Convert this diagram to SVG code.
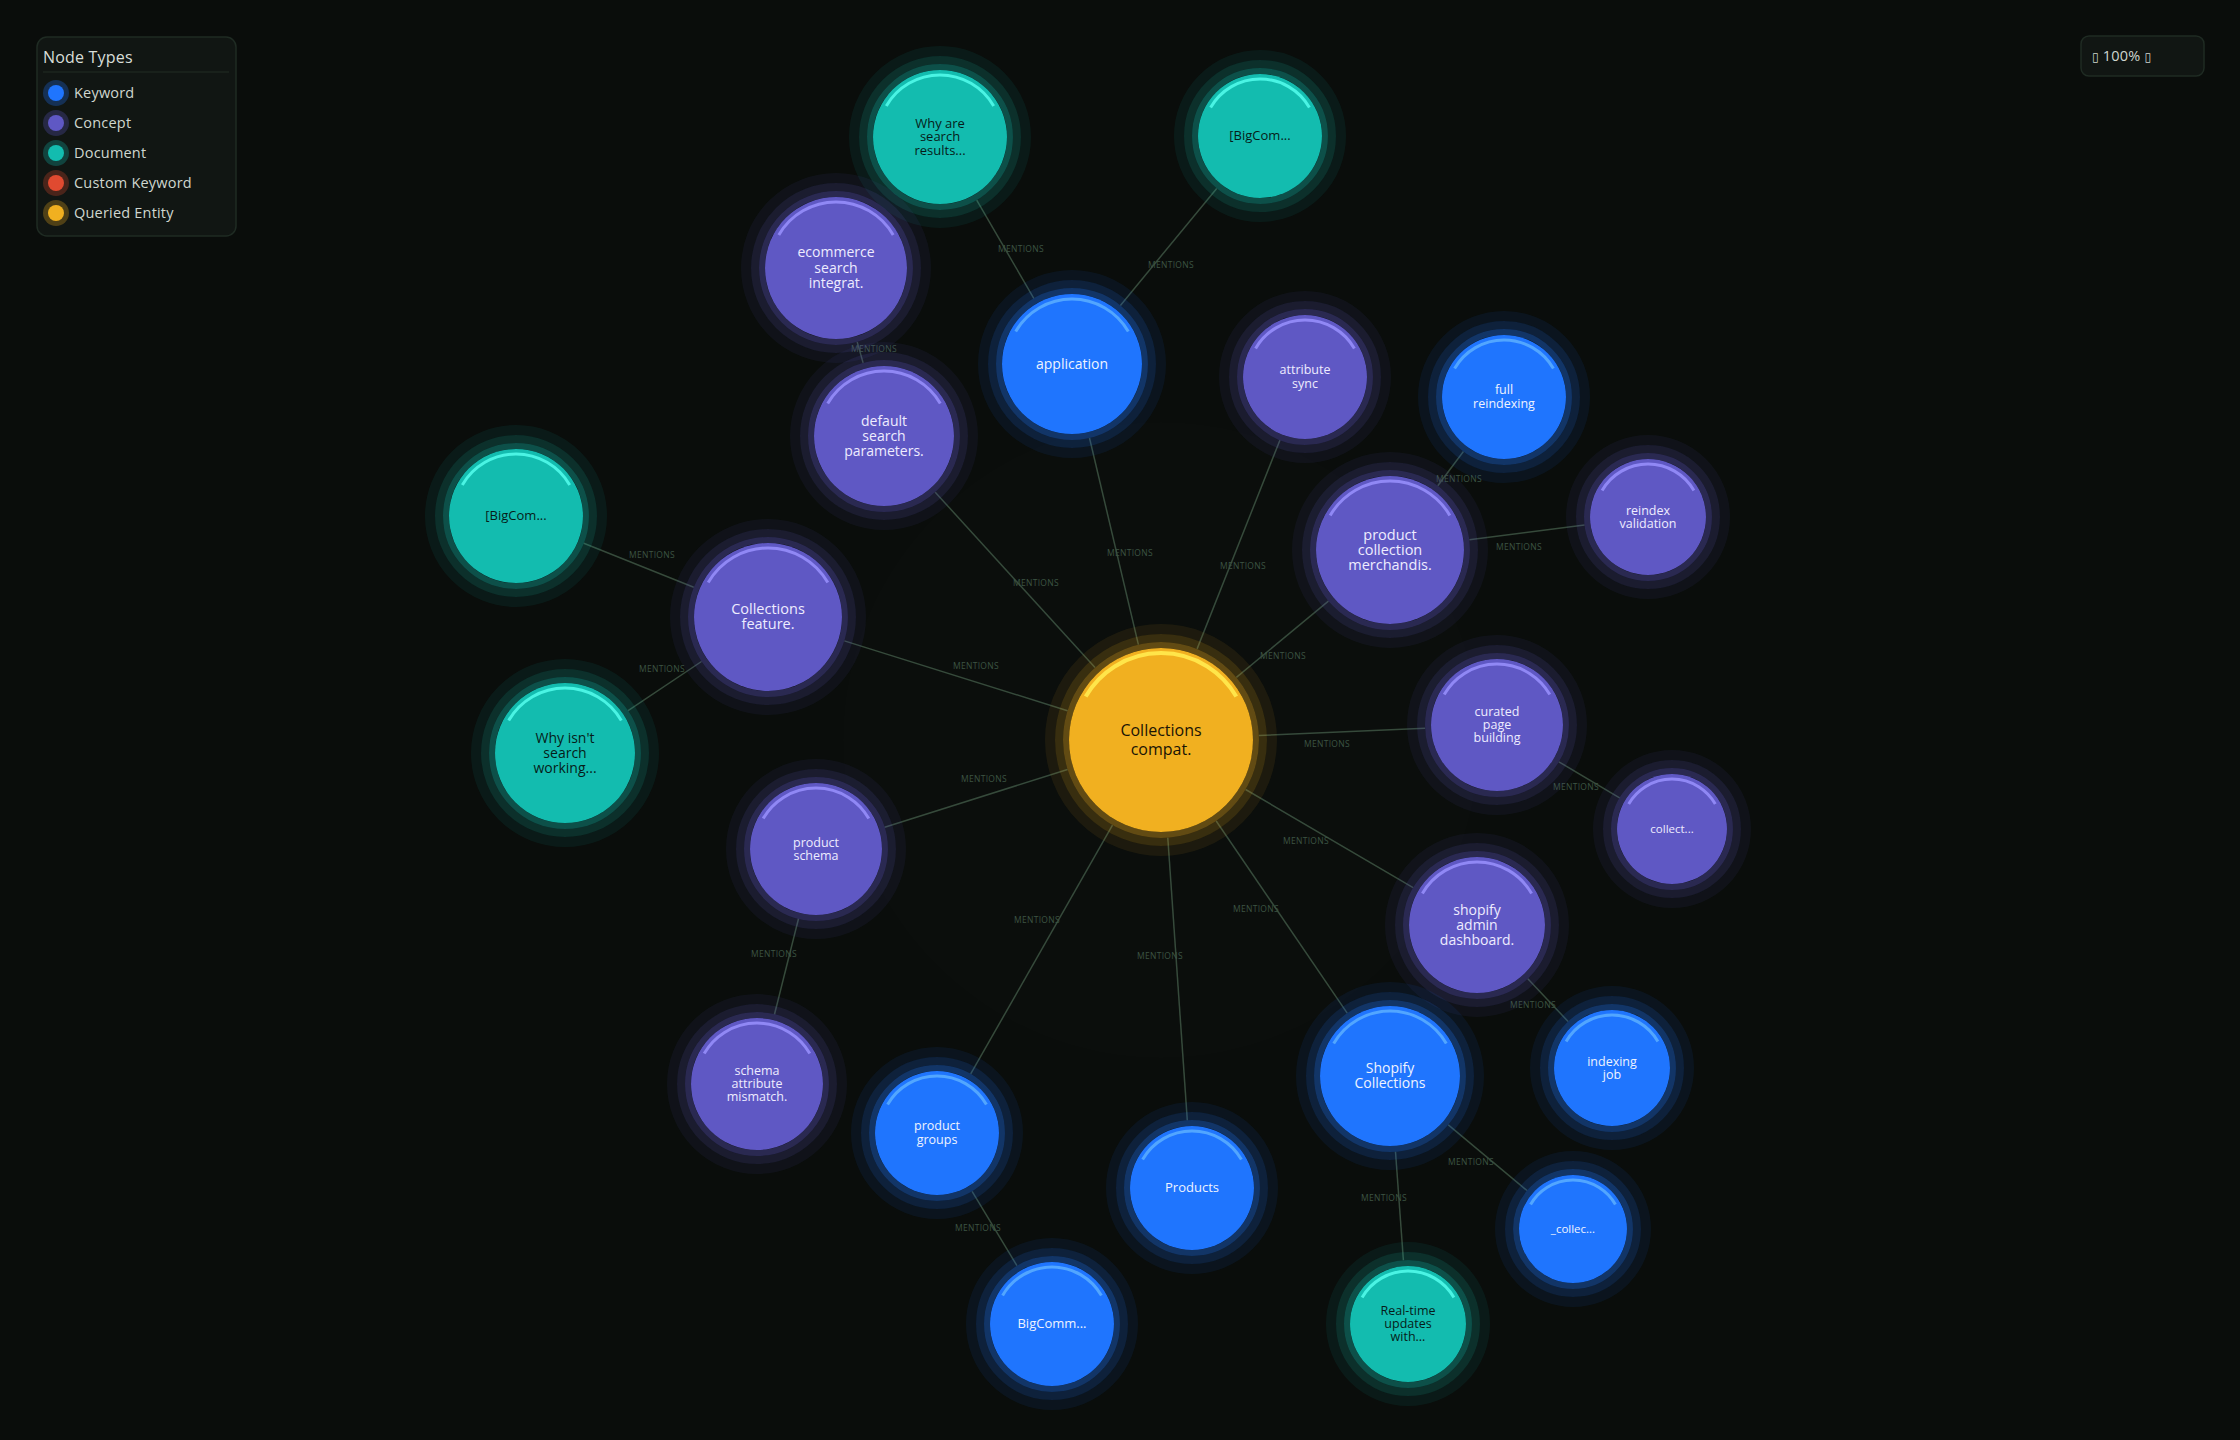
<svg xmlns="http://www.w3.org/2000/svg" width="2240" height="1440" viewBox="0 0 2240 1440">
<defs>
<style>
.t{font-family:"Open Sans","DejaVu Sans",sans-serif;text-anchor:middle}
.e{stroke:#364a3b;stroke-width:1.5;fill:none}
.el{font-family:"Open Sans","DejaVu Sans",sans-serif;font-size:8.5px;fill:#3c5443;text-anchor:middle;letter-spacing:0.3px}
.g{fill:none}
.g1{stroke-width:6;stroke-opacity:.38}
.g2{stroke-width:8;stroke-opacity:.2}
.g3{stroke-width:10;stroke-opacity:.08}
.hl{fill:none;stroke-width:3}
.kw .m{fill:#1f75fe}.kw .g{stroke:#1f75fe}.kw .hl{stroke:#52a6ff}.kw text{fill:#eef3ff}
.cp .m{fill:#5f58c4}.cp .g{stroke:#5f58c4}.cp .hl{stroke:#9088f5}.cp text{fill:#eeecff}
.dc .m{fill:#13bcaf}.dc .g{stroke:#13bcaf}.dc .hl{stroke:#4af4e4}.dc text{fill:#061c19}
.qe .m{fill:#f1b020}.qe .g{stroke:#f1b020}.qe .hl{stroke:#ffe54a;stroke-width:4}.qe text{fill:#1a1405}
.panel{fill:#111613;stroke:#1f2b23;stroke-width:1.5}
.lg{font-family:"Open Sans","DejaVu Sans",sans-serif;font-size:14.5px;fill:#cfd6cf;letter-spacing:0.2px}
.tofu{font-family:"DejaVu Sans",sans-serif;font-size:12px}
</style>
</defs>
<rect width="2240" height="1440" fill="#0a0d0b"/>
<circle cx="1161" cy="740" r="318" fill="#ffffff" opacity="0.006"/>

<g id="connectors">
<line class="e" x1="1033.8" y1="298.3" x2="976.7" y2="200.1"/>
<line class="e" x1="1120.4" y1="305.4" x2="1216.7" y2="188.5"/>
<line class="e" x1="857.2" y1="342.0" x2="863.1" y2="362.9"/>
<line class="e" x1="935.2" y1="492.2" x2="1095.0" y2="667.6"/>
<line class="e" x1="1089.5" y1="438.0" x2="1138.4" y2="644.6"/>
<line class="e" x1="1279.9" y1="440.2" x2="1197.1" y2="648.9"/>
<line class="e" x1="1463.4" y1="451.5" x2="1437.8" y2="485.8"/>
<line class="e" x1="1469.4" y1="539.8" x2="1584.5" y2="525.1"/>
<line class="e" x1="1328.4" y1="601.1" x2="1236.4" y2="677.4"/>
<line class="e" x1="583.8" y1="543.2" x2="693.7" y2="587.2"/>
<line class="e" x1="701.5" y1="661.5" x2="628.1" y2="710.7"/>
<line class="e" x1="844.4" y1="640.9" x2="1067.5" y2="710.7"/>
<line class="e" x1="1425.1" y1="728.2" x2="1258.9" y2="735.6"/>
<line class="e" x1="1558.9" y1="761.8" x2="1619.6" y2="797.8"/>
<line class="e" x1="884.7" y1="827.3" x2="1067.5" y2="769.5"/>
<line class="e" x1="1413.1" y1="887.6" x2="1245.6" y2="789.5"/>
<line class="e" x1="798.5" y1="918.8" x2="774.5" y2="1014.2"/>
<line class="e" x1="1527.8" y1="978.8" x2="1568.1" y2="1021.5"/>
<line class="e" x1="970.7" y1="1073.9" x2="1112.5" y2="825.1"/>
<line class="e" x1="1187.3" y1="1120.2" x2="1167.8" y2="837.8"/>
<line class="e" x1="1347.2" y1="1013.2" x2="1216.2" y2="821.0"/>
<line class="e" x1="972.1" y1="1191.3" x2="1016.9" y2="1265.7"/>
<line class="e" x1="1448.3" y1="1124.8" x2="1527.0" y2="1190.5"/>
<line class="e" x1="1395.5" y1="1151.8" x2="1403.4" y2="1260.2"/>
<text class="el" x="1021" y="252">MENTIONS</text>
<text class="el" x="1171" y="268">MENTIONS</text>
<text class="el" x="874" y="352">MENTIONS</text>
<text class="el" x="1036" y="586">MENTIONS</text>
<text class="el" x="1130" y="556">MENTIONS</text>
<text class="el" x="1243" y="569">MENTIONS</text>
<text class="el" x="1459" y="482">MENTIONS</text>
<text class="el" x="1519" y="550">MENTIONS</text>
<text class="el" x="1283" y="659">MENTIONS</text>
<text class="el" x="652" y="558">MENTIONS</text>
<text class="el" x="662" y="672">MENTIONS</text>
<text class="el" x="976" y="669">MENTIONS</text>
<text class="el" x="1327" y="747">MENTIONS</text>
<text class="el" x="1576" y="790">MENTIONS</text>
<text class="el" x="984" y="782">MENTIONS</text>
<text class="el" x="1306" y="844">MENTIONS</text>
<text class="el" x="774" y="957">MENTIONS</text>
<text class="el" x="1533" y="1008">MENTIONS</text>
<text class="el" x="1037" y="923">MENTIONS</text>
<text class="el" x="1160" y="959">MENTIONS</text>
<text class="el" x="1256" y="912">MENTIONS</text>
<text class="el" x="978" y="1231">MENTIONS</text>
<text class="el" x="1471" y="1165">MENTIONS</text>
<text class="el" x="1384" y="1201">MENTIONS</text>
</g>

<g id="n-center" class="qe" transform="translate(1161,740)">
<circle class="g g3" r="111"/><circle class="g g2" r="102"/><circle class="g g1" r="95"/>
<circle class="m" r="92"/>
<path class="hl" d="M-75.3 -43.5 A87 87 0 0 1 75.3 -43.5"/>
<text class="t" font-size="16" x="0" y="-4.5">Collections</text>
<text class="t" font-size="16" x="0" y="15">compat.</text>
</g>

<g id="n-application" class="kw" transform="translate(1072,364)">
<circle class="g g3" r="89"/><circle class="g g2" r="80"/><circle class="g g1" r="73"/>
<circle class="m" r="70"/>
<path class="hl" d="M-56.3 -32.5 A65 65 0 0 1 56.3 -32.5"/>
<text class="t" font-size="14" x="0" y="4.6">application</text>
</g>

<g id="n-why-are" class="dc" transform="translate(940,137)">
<circle class="g g3" r="86"/><circle class="g g2" r="77"/><circle class="g g1" r="70"/>
<circle class="m" r="67"/>
<path class="hl" d="M-53.7 -31 A62 62 0 0 1 53.7 -31"/>
<text class="t" font-size="13"><tspan x="0" y="-9.4">Why are</tspan><tspan x="0" y="4.2">search</tspan><tspan x="0" y="17.8">results...</tspan></text>
</g>

<g id="n-bigcom-top" class="dc" transform="translate(1260,136)">
<circle class="g g3" r="81"/><circle class="g g2" r="72"/><circle class="g g1" r="65"/>
<circle class="m" r="62"/>
<path class="hl" d="M-49.4 -28.5 A57 57 0 0 1 49.4 -28.5"/>
<text class="t" font-size="13" x="0" y="4.2">[BigCom...</text>
</g>

<g id="n-ecommerce" class="cp" transform="translate(836,268)">
<circle class="g g3" r="90"/><circle class="g g2" r="81"/><circle class="g g1" r="74"/>
<circle class="m" r="71"/>
<path class="hl" d="M-57.2 -33 A66 66 0 0 1 57.2 -33"/>
<text class="t" font-size="14"><tspan x="0" y="-10.7">ecommerce</tspan><tspan x="0" y="4.6">search</tspan><tspan x="0" y="19.9">integrat.</tspan></text>
</g>

<g id="n-default-search" class="cp" transform="translate(884,436)">
<circle class="g g3" r="89"/><circle class="g g2" r="80"/><circle class="g g1" r="73"/>
<circle class="m" r="70"/>
<path class="hl" d="M-56.3 -32.5 A65 65 0 0 1 56.3 -32.5"/>
<text class="t" font-size="14"><tspan x="0" y="-10.4">default</tspan><tspan x="0" y="4.6">search</tspan><tspan x="0" y="19.6">parameters.</tspan></text>
</g>

<g id="n-attribute-sync" class="cp" transform="translate(1305,377)">
<circle class="g g3" r="81"/><circle class="g g2" r="72"/><circle class="g g1" r="65"/>
<circle class="m" r="62"/>
<path class="hl" d="M-49.4 -28.5 A57 57 0 0 1 49.4 -28.5"/>
<text class="t" font-size="12.5"><tspan x="0" y="-2.6">attribute</tspan><tspan x="0" y="10.7">sync</tspan></text>
</g>

<g id="n-full-reindexing" class="kw" transform="translate(1504,397)">
<circle class="g g3" r="81"/><circle class="g g2" r="72"/><circle class="g g1" r="65"/>
<circle class="m" r="62"/>
<path class="hl" d="M-49.4 -28.5 A57 57 0 0 1 49.4 -28.5"/>
<text class="t" font-size="12.5"><tspan x="0" y="-2.6">full</tspan><tspan x="0" y="10.7">reindexing</tspan></text>
</g>

<g id="n-product-collection" class="cp" transform="translate(1390,550)">
<circle class="g g3" r="93"/><circle class="g g2" r="84"/><circle class="g g1" r="77"/>
<circle class="m" r="74"/>
<path class="hl" d="M-59.8 -34.5 A69 69 0 0 1 59.8 -34.5"/>
<text class="t" font-size="14.5"><tspan x="0" y="-10">product</tspan><tspan x="0" y="4.8">collection</tspan><tspan x="0" y="19.6">merchandis.</tspan></text>
</g>

<g id="n-reindex-validation" class="cp" transform="translate(1648,517)">
<circle class="g g3" r="77"/><circle class="g g2" r="68"/><circle class="g g1" r="61"/>
<circle class="m" r="58"/>
<path class="hl" d="M-45.9 -26.5 A53 53 0 0 1 45.9 -26.5"/>
<text class="t" font-size="12.5"><tspan x="0" y="-2.5">reindex</tspan><tspan x="0" y="10.5">validation</tspan></text>
</g>

<g id="n-bigcom-left" class="dc" transform="translate(516,516)">
<circle class="g g3" r="86"/><circle class="g g2" r="77"/><circle class="g g1" r="70"/>
<circle class="m" r="67"/>
<path class="hl" d="M-53.7 -31 A62 62 0 0 1 53.7 -31"/>
<text class="t" font-size="13" x="0" y="4.2">[BigCom...</text>
</g>

<g id="n-collections-feature" class="cp" transform="translate(768,617)">
<circle class="g g3" r="93"/><circle class="g g2" r="84"/><circle class="g g1" r="77"/>
<circle class="m" r="74"/>
<path class="hl" d="M-59.8 -34.5 A69 69 0 0 1 59.8 -34.5"/>
<text class="t" font-size="14.5"><tspan x="0" y="-2.9">Collections</tspan><tspan x="0" y="12.3">feature.</tspan></text>
</g>

<g id="n-why-isnt" class="dc" transform="translate(565,753)">
<circle class="g g3" r="89"/><circle class="g g2" r="80"/><circle class="g g1" r="73"/>
<circle class="m" r="70"/>
<path class="hl" d="M-56.3 -32.5 A65 65 0 0 1 56.3 -32.5"/>
<text class="t" font-size="14"><tspan x="0" y="-10.4">Why isn't</tspan><tspan x="0" y="4.6">search</tspan><tspan x="0" y="19.6">working...</tspan></text>
</g>

<g id="n-curated" class="cp" transform="translate(1497,725)">
<circle class="g g3" r="85"/><circle class="g g2" r="76"/><circle class="g g1" r="69"/>
<circle class="m" r="66"/>
<path class="hl" d="M-52.8 -30.5 A61 61 0 0 1 52.8 -30.5"/>
<text class="t" font-size="12.5"><tspan x="0" y="-9">curated</tspan><tspan x="0" y="4.1">page</tspan><tspan x="0" y="17.2">building</tspan></text>
</g>

<g id="n-collect" class="cp" transform="translate(1672,829)">
<circle class="g g3" r="74"/><circle class="g g2" r="65"/><circle class="g g1" r="58"/>
<circle class="m" r="55"/>
<path class="hl" d="M-43.3 -25 A50 50 0 0 1 43.3 -25"/>
<text class="t" font-size="11.5" x="0" y="3.8">collect...</text>
</g>

<g id="n-product-schema" class="cp" transform="translate(816,849)">
<circle class="g g3" r="85"/><circle class="g g2" r="76"/><circle class="g g1" r="69"/>
<circle class="m" r="66"/>
<path class="hl" d="M-52.8 -30.5 A61 61 0 0 1 52.8 -30.5"/>
<text class="t" font-size="12.5"><tspan x="0" y="-2.5">product</tspan><tspan x="0" y="10.6">schema</tspan></text>
</g>

<g id="n-shopify-admin" class="cp" transform="translate(1477,925)">
<circle class="g g3" r="87"/><circle class="g g2" r="78"/><circle class="g g1" r="71"/>
<circle class="m" r="68"/>
<path class="hl" d="M-54.6 -31.5 A63 63 0 0 1 54.6 -31.5"/>
<text class="t" font-size="14"><tspan x="0" y="-10.4">shopify</tspan><tspan x="0" y="4.6">admin</tspan><tspan x="0" y="19.6">dashboard.</tspan></text>
</g>

<g id="n-schema-attribute" class="cp" transform="translate(757,1084)">
<circle class="g g3" r="85"/><circle class="g g2" r="76"/><circle class="g g1" r="69"/>
<circle class="m" r="66"/>
<path class="hl" d="M-52.8 -30.5 A61 61 0 0 1 52.8 -30.5"/>
<text class="t" font-size="12.5"><tspan x="0" y="-9">schema</tspan><tspan x="0" y="4.1">attribute</tspan><tspan x="0" y="17.2">mismatch.</tspan></text>
</g>

<g id="n-product-groups" class="kw" transform="translate(937,1133)">
<circle class="g g3" r="81"/><circle class="g g2" r="72"/><circle class="g g1" r="65"/>
<circle class="m" r="62"/>
<path class="hl" d="M-49.4 -28.5 A57 57 0 0 1 49.4 -28.5"/>
<text class="t" font-size="12.5"><tspan x="0" y="-2.6">product</tspan><tspan x="0" y="10.7">groups</tspan></text>
</g>

<g id="n-products" class="kw" transform="translate(1192,1188)">
<circle class="g g3" r="81"/><circle class="g g2" r="72"/><circle class="g g1" r="65"/>
<circle class="m" r="62"/>
<path class="hl" d="M-49.4 -28.5 A57 57 0 0 1 49.4 -28.5"/>
<text class="t" font-size="13" x="0" y="4.2">Products</text>
</g>

<g id="n-shopify-collections" class="kw" transform="translate(1390,1076)">
<circle class="g g3" r="89"/><circle class="g g2" r="80"/><circle class="g g1" r="73"/>
<circle class="m" r="70"/>
<path class="hl" d="M-56.3 -32.5 A65 65 0 0 1 56.3 -32.5"/>
<text class="t" font-size="14"><tspan x="0" y="-2.8">Shopify</tspan><tspan x="0" y="12">Collections</tspan></text>
</g>

<g id="n-indexing-job" class="kw" transform="translate(1612,1068)">
<circle class="g g3" r="77"/><circle class="g g2" r="68"/><circle class="g g1" r="61"/>
<circle class="m" r="58"/>
<path class="hl" d="M-45.9 -26.5 A53 53 0 0 1 45.9 -26.5"/>
<text class="t" font-size="12.5"><tspan x="0" y="-2.5">indexing</tspan><tspan x="0" y="10.6">job</tspan></text>
</g>

<g id="n-collec" class="kw" transform="translate(1573,1229)">
<circle class="g g3" r="73"/><circle class="g g2" r="64"/><circle class="g g1" r="57"/>
<circle class="m" r="54"/>
<path class="hl" d="M-42.4 -24.5 A49 49 0 0 1 42.4 -24.5"/>
<text class="t" font-size="11.5" x="0" y="3.8">_collec...</text>
</g>

<g id="n-realtime" class="dc" transform="translate(1408,1324)">
<circle class="g g3" r="77"/><circle class="g g2" r="68"/><circle class="g g1" r="61"/>
<circle class="m" r="58"/>
<path class="hl" d="M-45.9 -26.5 A53 53 0 0 1 45.9 -26.5"/>
<text class="t" font-size="12.5"><tspan x="0" y="-9">Real-time</tspan><tspan x="0" y="4.1">updates</tspan><tspan x="0" y="17.2">with...</tspan></text>
</g>

<g id="n-bigcomm" class="kw" transform="translate(1052,1324)">
<circle class="g g3" r="81"/><circle class="g g2" r="72"/><circle class="g g1" r="65"/>
<circle class="m" r="62"/>
<path class="hl" d="M-49.4 -28.5 A57 57 0 0 1 49.4 -28.5"/>
<text class="t" font-size="13" x="0" y="4.2">BigComm...</text>
</g>

<g id="legend">
<rect class="panel" x="37" y="37" width="199" height="199" rx="10"/>
<text class="lg" x="43" y="63" style="font-size:16px;fill:#d8ded8">Node Types</text>
<line x1="43" y1="72" x2="229" y2="72" stroke="#222c25" stroke-width="1"/>
<circle cx="56" cy="93" r="13" fill="#1f75fe" fill-opacity="0.28"/><circle cx="56" cy="93" r="8" fill="#1f75fe"/>
<text class="lg" x="74" y="98">Keyword</text>
<circle cx="56" cy="123" r="13" fill="#5f58c4" fill-opacity="0.28"/><circle cx="56" cy="123" r="8" fill="#5f58c4"/>
<text class="lg" x="74" y="128">Concept</text>
<circle cx="56" cy="153" r="13" fill="#13bcaf" fill-opacity="0.28"/><circle cx="56" cy="153" r="8" fill="#13bcaf"/>
<text class="lg" x="74" y="158">Document</text>
<circle cx="56" cy="183" r="13" fill="#e04a30" fill-opacity="0.28"/><circle cx="56" cy="183" r="8" fill="#e04a30"/>
<text class="lg" x="74" y="188">Custom Keyword</text>
<circle cx="56" cy="213" r="13" fill="#f1b020" fill-opacity="0.28"/><circle cx="56" cy="213" r="8" fill="#f1b020"/>
<text class="lg" x="74" y="218">Queried Entity</text>
</g>

<g id="zoom-control">
<rect class="panel" x="2081" y="36" width="123" height="40" rx="8"/>
<text class="lg" x="2092" y="61" style="font-size:14.5px"><tspan class="tofu">▯</tspan> 100% <tspan class="tofu">▯</tspan></text>
</g>
</svg>
